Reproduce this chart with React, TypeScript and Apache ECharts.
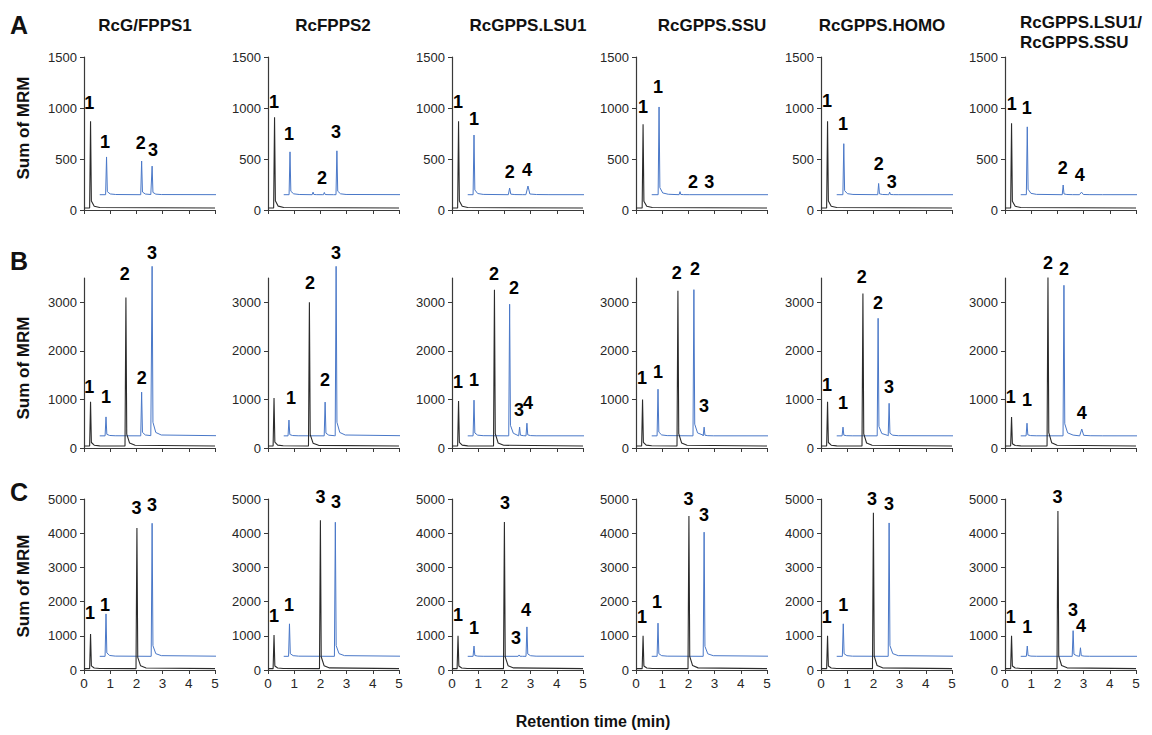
import React, { useEffect, useRef } from "react";
import * as echarts from "echarts";

// ---------- data ----------
const COLUMN_TITLES = ["RcG/FPPS1", "RcFPPS2", "RcGPPS.LSU1", "RcGPPS.SSU", "RcGPPS.HOMO", "RcGPPS.LSU1/\nRcGPPS.SSU"];
const ROW_LETTERS = ["A", "B", "C"];
const Y_TITLE = "Sum of MRM";
const X_TITLE = "Retention time (min)";
const X_TICKS = [0, 1, 2, 3, 4, 5];
const Y_TICKS_A = [0, 500, 1000, 1500];
const Y_TICKS_B = [0, 1000, 2000, 3000];
const Y_TICKS_C = [0, 1000, 2000, 3000, 4000, 5000];
const Y_MAX = [1500, 3500, 5000];
const BLACK_BASE = [20, 40, 40];
const BLUE_BASE = [150, 250, 400];
const BLUE_START = 0.6;
const BLUE_END = 5.6;

// peaks: [time, apex, width?]
const BLACK_A = [
  [[0.25, 870]],
  [[0.25, 910]],
  [[0.25, 870]],
  [[0.27, 840]],
  [[0.25, 870]],
  [[0.25, 850]],
];
const BLUE_A = [
  [[0.86, 520], [2.2, 480], [2.6, 430]],
  [[0.84, 570], [1.72, 175], [2.15, 172], [2.63, 580]],
  [[0.84, 735], [2.2, 215, 0.05], [2.9, 235, 0.08]],
  [[0.88, 1010], [1.68, 180]],
  [[0.87, 650], [2.2, 260], [2.62, 175]],
  [[0.85, 815], [2.22, 245], [2.92, 175, 0.08]],
];
const LABELS_A = [
  [[0.2, 1050, "1"], [0.8, 670, "1"], [2.17, 660, "2"], [2.63, 590, "3"]],
  [[0.23, 1060, "1"], [0.8, 750, "1"], [2.06, 310, "2"], [2.6, 760, "3"]],
  [[0.23, 1060, "1"], [0.84, 890, "1"], [2.2, 375, "2"], [2.86, 390, "4"]],
  [[0.27, 1010, "1"], [0.84, 1210, "1"], [2.18, 275, "2"], [2.8, 275, "3"]],
  [[0.23, 1070, "1"], [0.84, 845, "1"], [2.2, 455, "2"], [2.7, 270, "3"]],
  [[0.26, 1040, "1"], [0.83, 1000, "1"], [2.2, 410, "2"], [2.85, 340, "4"]],
];

const BLACK_B = [
  [[0.25, 950], [1.6, 3100]],
  [[0.23, 1030], [1.58, 3000]],
  [[0.25, 965], [1.62, 3260]],
  [[0.25, 1000], [1.6, 3240]],
  [[0.25, 950], [1.6, 3180]],
  [[0.25, 640], [1.64, 3510]],
];
const BLUE_B = [
  [[0.84, 640], [2.2, 1150], [2.6, 3740]],
  [[0.8, 575], [2.18, 945], [2.6, 3740]],
  [[0.84, 985], [2.2, 2960], [2.58, 430], [2.86, 510]],
  [[0.84, 1210], [2.21, 3260], [2.6, 430]],
  [[0.84, 430], [2.18, 2670], [2.6, 920]],
  [[0.84, 510], [2.25, 3350], [2.93, 390, 0.08]],
];
const LABELS_B = [
  [[0.2, 1250, "1"], [0.84, 1050, "1"], [1.56, 3590, "2"], [2.2, 1440, "2"], [2.6, 4020, "3"]],
  [[0.88, 1030, "1"], [1.6, 3390, "2"], [2.18, 1400, "2"], [2.6, 4020, "3"]],
  [[0.23, 1355, "1"], [0.84, 1400, "1"], [1.6, 3590, "2"], [2.37, 3300, "2"], [2.56, 780, "3"], [2.9, 920, "4"]],
  [[0.23, 1440, "1"], [0.84, 1560, "1"], [1.56, 3610, "2"], [2.25, 3680, "2"], [2.6, 860, "3"]],
  [[0.23, 1290, "1"], [0.84, 920, "1"], [1.56, 3520, "2"], [2.18, 2980, "2"], [2.6, 1260, "3"]],
  [[0.22, 1050, "1"], [0.84, 990, "1"], [1.64, 3800, "2"], [2.25, 3680, "2"], [2.93, 720, "4"]],
];

const BLACK_C = [
  [[0.25, 1050], [2.02, 4150]],
  [[0.23, 1020], [2.0, 4380]],
  [[0.23, 1000], [2.0, 4330]],
  [[0.27, 1000], [2.02, 4500]],
  [[0.25, 1000], [2.0, 4600]],
  [[0.25, 1000], [2.02, 4650]],
];
const BLUE_C = [
  [[0.84, 1640], [2.6, 4290]],
  [[0.82, 1350], [2.57, 4320]],
  [[0.84, 700], [2.56, 440], [2.86, 1260]],
  [[0.84, 1370], [2.6, 4030]],
  [[0.85, 1350], [2.6, 4300]],
  [[0.85, 700], [2.6, 1150], [2.88, 650]],
];
const LABELS_C = [
  [[0.23, 1670, "1"], [0.8, 1900, "1"], [2.0, 4740, "3"], [2.6, 4820, "3"]],
  [[0.23, 1580, "1"], [0.8, 1900, "1"], [2.0, 5060, "3"], [2.6, 4910, "3"]],
  [[0.23, 1610, "1"], [0.84, 1230, "1"], [2.02, 4880, "3"], [2.44, 940, "3"], [2.82, 1750, "4"]],
  [[0.23, 1550, "1"], [0.8, 1990, "1"], [2.0, 5000, "3"], [2.6, 4530, "3"]],
  [[0.22, 1550, "1"], [0.85, 1900, "1"], [1.95, 5000, "3"], [2.6, 4850, "3"]],
  [[0.22, 1550, "1"], [0.85, 1250, "1"], [2.0, 5050, "3"], [2.6, 1750, "3"], [2.9, 1280, "4"]],
];

// ---------- layout ----------
const COL_LEFT = [84, 268, 452, 636, 821, 1005];
const PLOT_W = 131;
const ROW_TOP = [57, 278, 499];
const ROW_H = [153, 170, 171];
const TITLE_X = [145, 333, 528, 712, 882];
const FONT = "'Liberation Sans', Arial, sans-serif";
const BLACK = "#2b2b2b";
const BLUE = "#4a78c8";
const AXIS = "#3a3a3a";

function buildTrace(peaks: any[], base: number, start: number, end: number) {
  const pts: number[][] = [[start, base]];
  const sorted = [...peaks].sort((a, b) => a[0] - b[0]);
  sorted.forEach((p, i) => {
    const t = p[0];
    const apex = p[1];
    const w = p[2] ?? 0.035;
    const h = apex - base;
    const next = sorted[i + 1];
    const nextPre = next ? next[0] - (next[2] ?? 0.035) : end;
    const last = pts[pts.length - 1][0];
    if (t - w > last) pts.push([t - w, base]);
    pts.push([t, apex]);
    pts.push([t + w * 0.9, base + h * 0.08]);
    if (t + w * 4 < nextPre) pts.push([t + w * 4, base + h * 0.02]);
    if (t + w * 10 < nextPre) pts.push([t + w * 10, base + h * 0.005]);
  });
  pts.push([end, base]);
  return pts;
}

function buildOption() {
  const blacks = [BLACK_A, BLACK_B, BLACK_C];
  const blues = [BLUE_A, BLUE_B, BLUE_C];
  const labels = [LABELS_A, LABELS_B, LABELS_C];
  const yTicks = [Y_TICKS_A, Y_TICKS_B, Y_TICKS_C];
  const grid: any[] = [];
  const xAxis: any[] = [];
  const yAxis: any[] = [];
  const series: any[] = [];
  for (let r = 0; r < 3; r++) {
    for (let c = 0; c < 6; c++) {
      const idx = r * 6 + c;
      grid.push({
        left: COL_LEFT[c],
        top: ROW_TOP[r],
        width: PLOT_W,
        height: ROW_H[r],
        containLabel: false,
        outerBoundsMode: "none",
      });
      xAxis.push({
        gridIndex: idx,
        type: "value",
        min: 0,
        max: 5,
        interval: 1,
        axisLine: { show: true, onZero: false, lineStyle: { color: AXIS, width: 1.2 } },
        axisTick: { show: true, length: 4, lineStyle: { color: AXIS } },
        axisLabel: {
          show: r === 2,
          margin: 6,
          fontSize: 13.5,
          fontFamily: FONT,
          color: "#262626",
          customValues: X_TICKS,
          formatter: (v: number) => String(v),
        },
        splitLine: { show: false },
      });
      yAxis.push({
        gridIndex: idx,
        type: "value",
        min: 0,
        max: Y_MAX[r],
        axisLine: { show: true, onZero: false, lineStyle: { color: AXIS, width: 1.2 } },
        axisTick: { show: true, length: 4, lineStyle: { color: AXIS }, customValues: yTicks[r] },
        axisLabel: {
          show: true,
          margin: 7,
          fontSize: 13,
          fontFamily: FONT,
          color: "#262626",
          customValues: yTicks[r],
          formatter: (v: number) => String(v),
        },
        splitLine: { show: false },
      });
      series.push({
        type: "line",
        xAxisIndex: idx,
        yAxisIndex: idx,
        data: buildTrace(blues[r][c], BLUE_BASE[r], BLUE_START, BLUE_END),
        showSymbol: false,
        symbol: "none",
        clip: false,
        silent: true,
        lineStyle: { color: BLUE, width: 1 },
        z: 2,
      });
      series.push({
        type: "line",
        xAxisIndex: idx,
        yAxisIndex: idx,
        data: buildTrace(blacks[r][c], BLACK_BASE[r], 0, 5),
        showSymbol: false,
        symbol: "none",
        clip: false,
        silent: true,
        lineStyle: { color: BLACK, width: 1.1 },
        z: 3,
      });
      series.push({
        type: "scatter",
        xAxisIndex: idx,
        yAxisIndex: idx,
        data: labels[r][c],
        symbolSize: 1,
        clip: false,
        silent: true,
        itemStyle: { color: "rgba(0,0,0,0)" },
        label: {
          show: true,
          position: "inside",
          formatter: (p: any) => p.value[2],
          fontSize: 18,
          fontWeight: "bold",
          fontFamily: FONT,
          color: "#000",
          textBorderWidth: 0,
          opacity: 1,
        },
        z: 5,
      });
    }
  }

  const graphic: any[] = [];
  COLUMN_TITLES.slice(0, 5).forEach((t, i) => {
    graphic.push({
      type: "text",
      x: TITLE_X[i],
      y: 25,
      style: { text: t, textAlign: "center", textVerticalAlign: "middle", font: `bold 17px ${FONT}`, fill: "#111" },
    });
  });
  graphic.push({
    type: "text",
    x: 1020,
    y: 32,
    style: {
      text: COLUMN_TITLES[5],
      textAlign: "left",
      textVerticalAlign: "middle",
      font: `bold 17px ${FONT}`,
      lineHeight: 20,
      fill: "#111",
    },
  });
  const letterY = [25, 261, 492];
  ROW_LETTERS.forEach((l, i) => {
    graphic.push({
      type: "text",
      x: 19,
      y: letterY[i],
      style: { text: l, textAlign: "center", textVerticalAlign: "middle", font: `bold 25px ${FONT}`, fill: "#111" },
    });
  });
  const yTitleY = [128, 368, 586];
  yTitleY.forEach((y) => {
    graphic.push({
      type: "text",
      x: 23,
      y,
      rotation: Math.PI / 2,
      style: { text: Y_TITLE, textAlign: "center", textVerticalAlign: "middle", font: `bold 17px ${FONT}`, fill: "#111" },
    });
  });
  graphic.push({
    type: "text",
    x: 593,
    y: 721,
    style: { text: X_TITLE, textAlign: "center", textVerticalAlign: "middle", font: `bold 16px ${FONT}`, fill: "#111" },
  });

  return {
    animation: false,
    backgroundColor: "#ffffff",
    grid,
    xAxis,
    yAxis,
    series,
    graphic,
  };
}

export default function App() {
  const ref = useRef<HTMLDivElement>(null);
  useEffect(() => {
    const chart = echarts.init(ref.current!, null, { renderer: "svg" });
    chart.setOption(buildOption() as any);
    return () => chart.dispose();
  }, []);
  return (
    <div
      ref={ref}
      style={{ position: "absolute", left: 0, top: 0, width: 1152, height: 735, background: "#fff" }}
    />
  );
}
